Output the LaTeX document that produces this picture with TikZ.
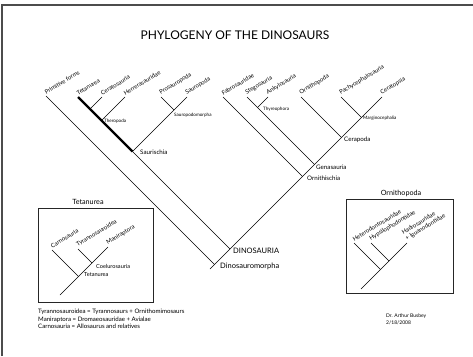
\documentclass[tikz,border=0pt]{standalone}
\usepackage{fontspec}
\setmainfont{Lato}

\begin{document}
\begin{tikzpicture}[
    x=1pt, y=-1pt,
    branch/.style={draw=black, line width=0.6pt},
    thickStem/.style={draw=black, line width=2.4pt},
    % Label styles
    tipLabel/.style={anchor=south west, rotate=31, inner sep=1pt, font=\fontsize{5.9}{6.8}\selectfont, align=left},
    cladeSmall/.style={anchor=west, inner sep=1pt, font=\fontsize{4.6}{5}\selectfont},
    clade/.style={anchor=west, inner sep=1pt, font=\fontsize{6.2}{7}\selectfont},
    cladeBig/.style={anchor=west, inner sep=1pt, font=\fontsize{7.5}{9}\selectfont},
    % Inset styles
    insetBox/.style={draw=black!85, line width=0.8pt, inner sep=0pt, outer sep=0pt},
    insetTitle/.style={font=\fontsize{7.2}{8}\selectfont, inner sep=1pt},
    footNote/.style={anchor=north west, align=left, inner sep=0pt, font=\fontsize{6.1}{7.6}\selectfont}
]
\useasboundingbox (0,0) rectangle (473,356);

% frame
\draw[draw=black!70, line width=1.4pt] (2,356) -- (2,5) -- (473,5);

\node[font=\fontsize{12}{14}\selectfont] (title) at (235,35) {PHYLOGENY OF THE DINOSAURS};

% --- MAIN TREE: tips ---
\coordinate (tPrim) at (46,96);
\coordinate (tTet) at (78,97);
\coordinate (tCerato) at (102,97);
\coordinate (tHerr) at (125,97);
\coordinate (tPros) at (161,97);
\coordinate (tSaur) at (187,97);
\coordinate (tFab) at (223,97);
\coordinate (tSteg) at (247,97);
\coordinate (tAnky) at (268,97);
\coordinate (tOrn) at (301,97);
\coordinate (tPachy) at (341,97);
\coordinate (tCeratops) at (382,97);

% --- MAIN TREE: junctions ---
\coordinate (jBase) at (210,269);
\coordinate (jDmorph) at (214.5,264.5);
\coordinate (jDino) at (230,249);
\coordinate (jSauri) at (132.5,151.5);
\coordinate (jThero) at (101.5,120.5);
\coordinate (jCerato) at (90,109);
\coordinate (jSpm) at (174,110);
\coordinate (jOrnith) at (302.5,176.5);
\coordinate (jGena) at (314.5,164.5);
\coordinate (jThyr) at (257.5,107.5);
\coordinate (jCera) at (341.5,137.5);
\coordinate (jMarg) at (361.5,117.5);

\draw[branch] (jBase) -- (tCeratops);
\draw[branch] (tPrim) -- (jDmorph);
\draw[thickStem] (tTet) -- (jSauri);
\draw[branch] (jSauri) -- (jDino);
\draw[branch] (tCerato) -- (jCerato);
\draw[branch] (tHerr) -- (jThero);
\draw[branch] (tSaur) -- (jSauri);
\draw[branch] (tPros) -- (jSpm);
\draw[branch] (tFab) -- (jOrnith);
\draw[branch] (tSteg) -- (jGena);
\draw[branch] (tAnky) -- (jThyr);
\draw[branch] (tOrn) -- (jCera);
\draw[branch] (tPachy) -- (jMarg);

\node[tipLabel] (lPrim) at (tPrim) {Primitive forms};
\node[tipLabel] (lTet) at (tTet) {Tetanurea};
\node[tipLabel] (lCerato) at (tCerato) {Ceratosauria};
\node[tipLabel] (lHerr) at (tHerr) {Herrerasauridae};
\node[tipLabel] (lPros) at (tPros) {Prosauropoda};
\node[tipLabel] (lSaur) at (tSaur) {Sauropoda};
\node[tipLabel] (lFab) at (tFab) {Fabrosauridae};
\node[tipLabel] (lSteg) at (tSteg) {Stegosauria};
\node[tipLabel] (lAnky) at (tAnky) {Ankylosauria};
\node[tipLabel] (lOrn) at (tOrn) {Ornithopoda};
\node[tipLabel] (lPachy) at (tPachy) {Pachycephalosauria};
\node[tipLabel] (lCeratops) at (tCeratops) {Ceratopsia};

\node[cladeSmall] (lThero) at (103,121) {Theropoda};
\node[cladeSmall] (lSpm) at (173,115) {Sauropodomorpha};
\node[clade] (lSauri) at (139,152) {Saurischia};
\node[cladeBig] (lDino) at (232,251) {DINOSAURIA};
\node[cladeBig] (lDmorph) at (219,266) {Dinosauromorpha};
\node[cladeSmall] (lThyr) at (262,109) {Thyreophora};
\node[clade] (lOrnith) at (306,178) {Ornithischia};
\node[clade] (lGena) at (315,167) {Genasauria};
\node[clade] (lCera) at (343,140) {Cerapoda};
\node[cladeSmall] (lMarg) at (362,118) {Marginocephalia};

% --- INSET: Tetanurea ---
\node[insetBox, minimum width=115, minimum height=94] (boxTet) at (95.5,255) {};
\node[insetTitle] (titleTet) at (88,202) {Tetanurea};
\coordinate (tCarno) at (52,250);
\coordinate (tTyr) at (78,249);
\coordinate (tMani) at (108,247);
\coordinate (jTetIn) at (78.5,276.5);
\coordinate (jCoel) at (92,263);
\coordinate (bTet) at (60,295);
\draw[branch] (bTet) -- (tMani);
\draw[branch] (tCarno) -- (jTetIn);
\draw[branch] (tTyr) -- (jCoel);
\node[tipLabel] (lCarno) at (tCarno) {Carnosauria};
\node[tipLabel] (lTyr) at (tTyr) {Tyrannosauroidea};
\node[tipLabel] (lMani) at (tMani) {Maniraptora};
\node[clade, font=\fontsize{5.6}{6}\selectfont] (lCoel) at (95,266) {Coelurosauria};
\node[clade, font=\fontsize{5.6}{6}\selectfont] (lTetIn) at (83,275) {Tetanurea};

\node[footNote] (notes) at (38,309) {Tyrannosauroidea = Tyrannosaurs + Ornithomimosaurs\\
Maniraptora = Dromaeosauridae + Avialae\\
Carnosauria = Allosaurus and relatives};

% --- INSET: Ornithopoda ---
\node[insetBox, minimum width=107, minimum height=94] (boxOrn) at (399.5,246) {};
\node[insetTitle] (titleOrn) at (401,193) {Ornithopoda};
\coordinate (tHetero) at (354,243);
\coordinate (tHypsi) at (371,243);
\coordinate (tHadro) at (407,243);
\coordinate (jHetero) at (380.5,269.5);
\coordinate (jHypsi) at (389,261);
\coordinate (bOrn) at (361,289);
\draw[branch] (bOrn) -- (tHadro);
\draw[branch] (tHetero) -- (jHetero);
\draw[branch] (tHypsi) -- (jHypsi);
\node[tipLabel] (lHetero) at (tHetero) {Heterodontosauridae};
\node[tipLabel] (lHypsi) at (tHypsi) {Hypsilophodontidae};
\node[tipLabel] (lHadro) at (tHadro) {Hadrosauridae\\+ Iguanodontidae};

\node[footNote, font=\fontsize{5}{7}\selectfont] (credit) at (386,314) {Dr. Arthur Busbey\\2/18/2008};

\end{tikzpicture}
\end{document}
